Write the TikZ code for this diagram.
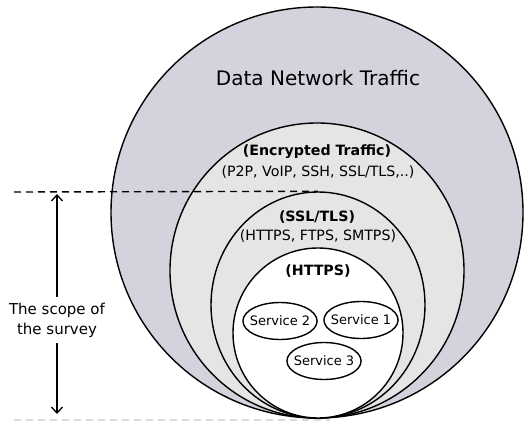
\documentclass[tikz,border=0pt]{standalone}
\usepackage{fontspec}
\setmainfont{DejaVu Sans}[BoldFont={DejaVu Sans Bold}]
\usetikzlibrary{shapes.geometric, arrows.meta}

\begin{document}
\begin{tikzpicture}[
      x=1pt, y=1pt,
      layer/.style={ellipse, draw, line width=1.4pt, inner sep=0pt},
      service/.style={ellipse, draw, line width=1.4pt, inner xsep=-4pt, inner ysep=0pt,
        minimum width=74pt, minimum height=37pt, font=\fontsize{13}{15}\selectfont},
      heading/.style={font=\bfseries\fontsize{14.2}{16}\selectfont},
      members/.style={font=\fontsize{14.2}{16}\selectfont},
      cut/.style={dashed, dash pattern=on 7pt off 5pt, line width=1.4pt},
      scopearrow/.style={-{Straight Barb[length=6pt, width=11pt]}, line width=1.3pt},
  ]
    \useasboundingbox (0,0) rectangle (525,421);
    % nested traffic classes
    \node[layer, fill={rgb,255:red,211;green,211;blue,221}, minimum width=412pt, minimum height=411pt] (traffic) at (317,208.5) {};
    \node[layer, fill={rgb,255:red,229;green,229;blue,229}, minimum width=294pt, minimum height=295pt] (encrypted) at (317,150.5) {};
    \node[layer, fill={rgb,255:red,229;green,229;blue,229}, minimum width=214pt, minimum height=226pt] (ssl) at (318,116) {};
    \node[layer, fill=white, minimum width=170pt, minimum height=170pt] (https) at (318,88) {};

    % survey boundaries
    \coordinate (cuttop) at (14,229);
    \coordinate (cutbottom) at (14,1);
    \coordinate (cutend) at (330,1);
    \draw[cut] (cuttop) -- (ssl.north);
    \draw[cut, black!15] (cutbottom) -- (cutend);

    % labels
    \node[font=\fontsize{20}{24}\selectfont] (trafficlabel) at (318,343) {Data Network Traffic};
    \node[heading] (encryptedlabel) at (317,269) {(Encrypted Traffic)};
    \node[members] (encryptedlist) at (318,249) {(P2P, VoIP, SSH, SSL/TLS,..)};
    \node[heading] (ssllabel) at (317,204) {(SSL/TLS)};
    \node[members] (ssllist) at (318,185) {(HTTPS, FTPS, SMTPS)};
    \node[heading] (httpslabel) at (318,150) {(HTTPS)};

    % services
    \node[service] (svc2) at (280,100) {Service 2};
    \node[service] (svc1) at (361,101) {Service 1};
    \node[service] (svc3) at (324,60) {Service 3};

    % scope of the survey
    \coordinate (scopetop) at (57,227);
    \coordinate (scopebottom) at (57,7);
    \node[align=center, inner sep=6pt, font=\fontsize{15}{20}\selectfont] (scope) at (57,101) {The scope of\\the survey};
    \draw[scopearrow] (scope.north) -- (scopetop);
    \draw[scopearrow] (scope.south) -- (scopebottom);
\end{tikzpicture}
\end{document}
